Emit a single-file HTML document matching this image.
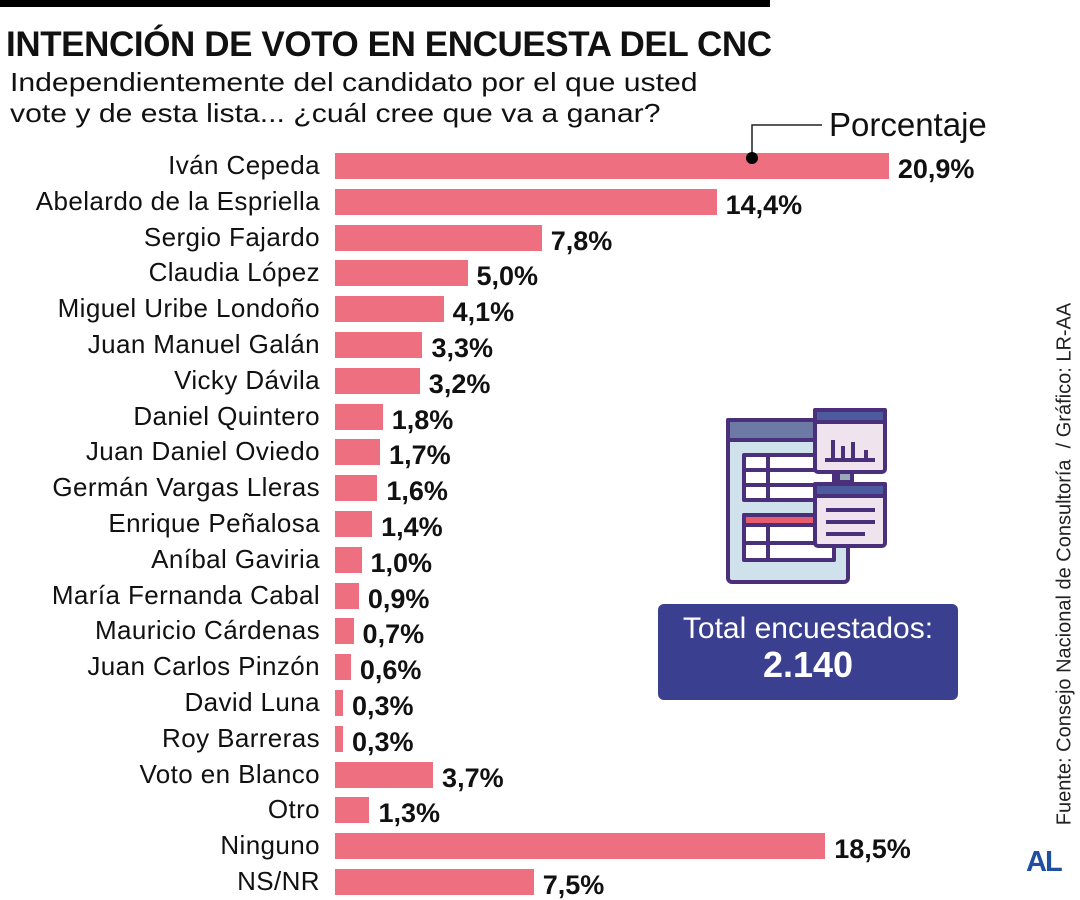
<!DOCTYPE html>
<html><head><meta charset="utf-8">
<style>
body{margin:0;background:#fff;}
#root{position:relative;width:1080px;height:900px;overflow:hidden;font-family:"Liberation Sans",sans-serif;color:#111;}
.lbl{position:absolute;right:760px;font-size:26px;letter-spacing:0.4px;white-space:nowrap;line-height:30px;}
.bar{position:absolute;left:335px;height:26px;background:#ee6f7f;}
.val{position:absolute;font-size:27px;font-weight:bold;line-height:30px;white-space:nowrap;}
</style></head><body>
<div id="root">
<div style="position:absolute;left:0;top:0;width:770px;height:7px;background:#000"></div>
<div style="position:absolute;left:6px;top:25px;font-size:35px;font-weight:bold;letter-spacing:-0.4px;white-space:nowrap">INTENCIÓN DE VOTO EN ENCUESTA DEL CNC</div>
<div style="position:absolute;left:10px;top:67px;font-size:26px;line-height:31px;white-space:nowrap;transform:scaleX(1.16);transform-origin:left">Independientemente del candidato por el que usted<br>vote y de esta lista... ¿cuál cree que va a ganar?</div>
<div style="position:absolute;left:829px;top:106px;font-size:33px">Porcentaje</div>
<div id="bars"></div>
<svg style="position:absolute;left:0;top:0;z-index:5" width="1080" height="900">
<polyline points="752,158 752,125 822,125" fill="none" stroke="#222" stroke-width="1.5"/>
<circle cx="752" cy="158" r="6" fill="#000"/>
</svg>
<svg style="position:absolute;left:720px;top:400px" width="180" height="190" viewBox="0 0 180 190">
<g stroke="#4a2f7a" stroke-width="4" stroke-linejoin="round">
<rect x="8" y="20" width="120" height="162" rx="4" fill="#cfe2ec"/>
<rect x="8" y="20" width="120" height="20" fill="#6e7aa6"/>
<rect x="24" y="55" width="90" height="45" fill="#fff"/>
<line x1="48" y1="55" x2="48" y2="100"/><line x1="24" y1="70" x2="114" y2="70"/><line x1="24" y1="85" x2="114" y2="85"/>
<rect x="24" y="115" width="90" height="45" fill="#fff"/>
<rect x="24" y="115" width="90" height="10" fill="#e85d6e"/>
<line x1="48" y1="125" x2="48" y2="160"/><line x1="24" y1="143" x2="114" y2="143"/>
<rect x="95" y="10" width="70" height="62" rx="3" fill="#efe3ee"/>
<rect x="95" y="10" width="70" height="12" fill="#4c5a9e"/>
<line x1="105" y1="60" x2="155" y2="60"/><line x1="113" y1="58" x2="113" y2="40"/><line x1="123" y1="58" x2="123" y2="46"/><line x1="133" y1="58" x2="133" y2="42"/><line x1="146" y1="58" x2="146" y2="50"/>
<rect x="118" y="72" width="14" height="10" fill="#9ab"/>
<rect x="95" y="84" width="70" height="62" rx="3" fill="#efe3ee"/>
<rect x="95" y="84" width="70" height="12" fill="#4c5a9e"/>
<line x1="106" y1="110" x2="155" y2="110"/><line x1="106" y1="122" x2="155" y2="122"/><line x1="106" y1="134" x2="145" y2="134"/>
</g></svg>
<div style="position:absolute;left:658px;top:604px;width:300px;height:96px;background:#3b3f8f;border-radius:6px;color:#fff;text-align:center">
<div style="font-size:30px;margin-top:8px">Total encuestados:</div>
<div style="font-size:36px;font-weight:bold;margin-top:-2px">2.140</div>
</div>
<div style="position:absolute;left:1065px;top:564px;transform:translate(-50%,-50%) rotate(-90deg);font-size:20px;white-space:nowrap;color:#222">Fuente: Consejo Nacional de Consultoría &nbsp;/ Gráfico: LR-AA</div>
<div style="position:absolute;left:1026px;top:846px;font-size:29px;font-weight:900;color:#1f4fa0;letter-spacing:-2px">AL</div>
</div>
<script>
const categories=["Iván Cepeda","Abelardo de la Espriella","Sergio Fajardo","Claudia López","Miguel Uribe Londoño","Juan Manuel Galán","Vicky Dávila","Daniel Quintero","Juan Daniel Oviedo","Germán Vargas Lleras","Enrique Peñalosa","Aníbal Gaviria","María Fernanda Cabal","Mauricio Cárdenas","Juan Carlos Pinzón","David Luna","Roy Barreras","Voto en Blanco","Otro","Ninguno","NS/NR"];
const values=[20.9,14.4,7.8,5.0,4.1,3.3,3.2,1.8,1.7,1.6,1.4,1.0,0.9,0.7,0.6,0.3,0.3,3.7,1.3,18.5,7.5];
const valueLabels=["20,9%","14,4%","7,8%","5,0%","4,1%","3,3%","3,2%","1,8%","1,7%","1,6%","1,4%","1,0%","0,9%","0,7%","0,6%","0,3%","0,3%","3,7%","1,3%","18,5%","7,5%"];
const x=v=>v*26.5;
const y=i=>166+i*35.8;
const host=document.getElementById('bars');
categories.forEach((c,i)=>{
  const l=document.createElement('div');l.className='lbl';
  
  
  l.textContent=c;l.style.top=(y(i)-16)+'px';host.appendChild(l);
  const b=document.createElement('div');b.className='bar';
  
  
  b.style.top=(y(i)-13)+'px';b.style.width=Math.max(x(values[i]),3)+'px';host.appendChild(b);
  const v=document.createElement('div');v.className='val';
  
  
  v.textContent=valueLabels[i];v.style.left=(335+Math.max(x(values[i]),3)+9)+'px';v.style.top=(y(i)-12)+'px';host.appendChild(v);
});
</script>
</body></html>
